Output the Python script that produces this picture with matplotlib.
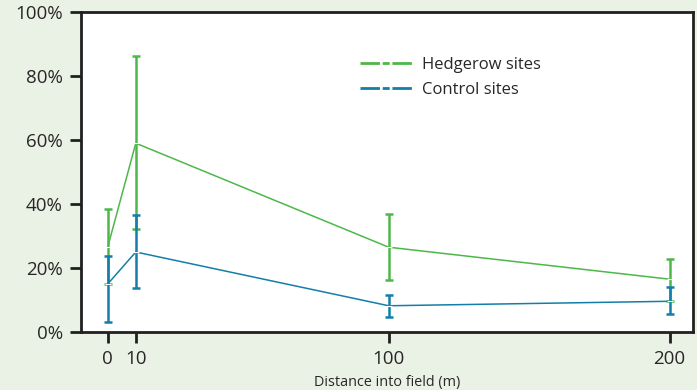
import matplotlib.pyplot as plt
from matplotlib.lines import Line2D
import numpy as np

plt.rcParams['font.family'] = ['Open Sans', 'DejaVu Sans']

distance = [0, 10, 100, 200]
x_ticks = [0, 10, 100, 200]
y_ticks = [0, 20, 40, 60, 80, 100]

hedge_mean = [26.5, 59, 26.5, 16.5]
hedge_low = [15, 32.2, 16.2, 9.8]
hedge_high = [38.5, 86.3, 37, 22.8]

ctrl_mean = [15, 25, 8.2, 9.6]
ctrl_low = [3.2, 13.6, 4.7, 5.7]
ctrl_high = [23.8, 36.6, 11.5, 14.2]

green = '#4db849'
blue = '#127ea9'
bg = '#e9f2e5'
ink = '#231f20'
txt = '#2a2627'

fig = plt.figure(figsize=(6.97, 3.9), dpi=100, facecolor=bg)
ax = fig.add_axes([81/697, 1 - 332/390, (693-81)/697, (332-12)/390])
ax.set_facecolor('white')

def draw(mean, low, high, col):
    mean = np.array(mean)
    err = [mean - np.array(low), np.array(high) - mean]
    ax.errorbar(distance, mean, yerr=err, color=col, lw=1.1, elinewidth=1.8,
                capsize=3, capthick=1.8, zorder=2)
    ax.plot(distance, mean, ls='none', marker='_', ms=4, mew=0.8,
            color='white', zorder=3)

draw(hedge_mean, hedge_low, hedge_high, green)
draw(ctrl_mean, ctrl_low, ctrl_high, blue)

ax.set_xlim(-9.5, 208.3)
ax.set_ylim(0, 100)
ax.set_xticks(x_ticks)
ax.set_xticklabels(['0', '10', '100', '200'])
ax.set_yticks(y_ticks)
ax.set_yticklabels([f'{v}%' for v in y_ticks])
for s in ax.spines.values():
    s.set_linewidth(2)
    s.set_color(ink)
ax.tick_params(direction='out', length=8, width=2, color=ink,
               labelsize=13.5, labelcolor=txt, pad=5)
ax.set_xlabel('Distance into field (m)', fontsize=10.4, color=txt, labelpad=5)

handles = [Line2D([], [], color=green, lw=2, ls=(0, (7, 1, 2.5, 1))),
           Line2D([], [], color=blue, lw=2, ls=(0, (7, 1, 2.5, 1)))]
leg = ax.legend(handles, ['Hedgerow sites', 'Control sites'],
                loc='upper left', bbox_to_anchor=(0.432, 0.906),
                frameon=False, fontsize=12, handlelength=3.2,
                handletextpad=0.5, labelspacing=0.55, labelcolor=txt)

fig.savefig('out.png', dpi=100, facecolor=bg)
